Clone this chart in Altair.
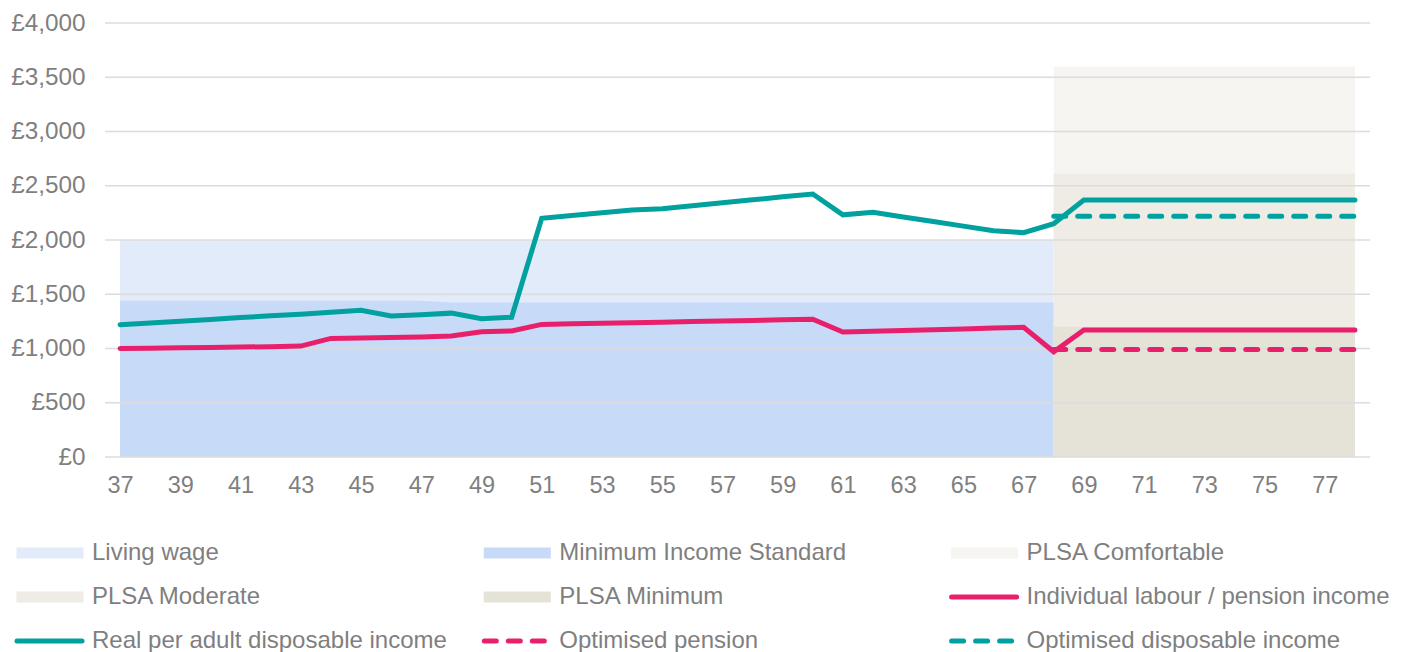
import altair as alt
import pandas as pd

# ---------------- data ----------------
ages = list(range(37, 79))
real_income = [1220, 1236, 1252, 1268, 1285, 1302, 1316, 1335, 1352, 1300,
               1312, 1326, 1275, 1288, 2200, 2226, 2252, 2277, 2287, 2315,
               2343, 2370, 2398, 2424, 2232, 2255, 2212, 2170, 2128, 2086,
               2068, 2150, 2368, 2368, 2368, 2368, 2368, 2368, 2368, 2368,
               2368, 2368]
individual_income = [1000, 1003, 1006, 1009, 1013, 1017, 1022, 1093, 1097, 1101,
                     1105, 1115, 1155, 1162, 1222, 1227, 1232, 1237, 1242, 1248,
                     1253, 1259, 1265, 1270, 1152, 1158, 1165, 1172, 1180, 1188,
                     1196, 970, 1170, 1170, 1170, 1170, 1170, 1170, 1170, 1170,
                     1170, 1170]
opt_ages = [68, 69, 70, 71, 72, 73, 74, 75, 76, 77, 78]
opt_pension = [990, 990, 990, 990, 990, 990, 990, 990, 990, 990, 990]
opt_disposable = [2220, 2220, 2220, 2220, 2220, 2220, 2220, 2220, 2220, 2220, 2220]

band_names = ["Living wage", "Minimum Income Standard", "PLSA Comfortable",
              "PLSA Moderate", "PLSA Minimum"]
band_ages = [[37, 68], [37, 47, 48, 68], [68, 78], [68, 78], [68, 78]]
band_values = [[2000, 2000], [1440, 1440, 1425, 1425], [3600, 3600],
               [2610, 2610], [1200, 1200]]

solid_names = ["Individual labour / pension income", "Real per adult disposable income"]
dashed_names = ["Optimised pension", "Optimised disposable income"]

series_order = ["Living wage", "Minimum Income Standard", "PLSA Comfortable",
                "PLSA Moderate", "PLSA Minimum", "Individual labour / pension income",
                "Real per adult disposable income", "Optimised pension",
                "Optimised disposable income"]
series_colors = ["#E2EBFA", "#C7DAF7", "#F6F5F1", "#EEECE5", "#E5E3D8",
                 "#E8206C", "#00A19E", "#E8206C", "#00A19E"]

y_ticks = [0, 500, 1000, 1500, 2000, 2500, 3000, 3500, 4000]
x_ticks = [37, 39, 41, 43, 45, 47, 49, 51, 53, 55, 57, 59, 61, 63, 65, 67,
           69, 71, 73, 75, 77]

# ---------------- styling ----------------
FONT = "Liberation Sans"
GREY = "#7F7F7F"
RECT_PATH = "M-1,-0.164H1V0.164H-1Z"
LINE_PATH = "M-1,0H1"

color = alt.Color("series:N",
                  scale=alt.Scale(domain=series_order, range=series_colors),
                  legend=None)

xscale = alt.Scale(domain=[36.5, 78.5], nice=False, zero=False)
yscale = alt.Scale(domain=[0, 4000], nice=False)

x_axis = alt.Axis(values=x_ticks, title=None, grid=False, domain=False, ticks=False,
                  labelFont=FONT, labelFontSize=23.5, labelColor=GREY, labelPadding=16,
                  labelFlush=False)
y_axis = alt.Axis(values=y_ticks, title=None, grid=False, domain=False, ticks=False,
                  labelFont=FONT, labelFontSize=24.3, labelColor=GREY, labelPadding=20,
                  labelExpr="'£' + format(datum.value, ',')")

layers = []
# bands (areas)
for i, name in enumerate(band_names):
    df = pd.DataFrame({"age": band_ages[i], "value": band_values[i], "series": name})
    layers.append(alt.Chart(df).mark_area(opacity=1, interpolate="linear").encode(
        x=alt.X("age:Q", scale=xscale, axis=x_axis if i == 0 else None),
        y=alt.Y("value:Q", scale=yscale, axis=y_axis if i == 0 else None, stack=None),
        color=color,
    ))

# gridlines
grid_df = pd.DataFrame({"value": y_ticks})
layers.append(alt.Chart(grid_df).mark_rule(color="#DCDCDC", strokeWidth=1.6).encode(
    y=alt.Y("value:Q", scale=yscale, axis=None)))


def line_layer(a, v, name, dashed):
    df = pd.DataFrame({"age": a, "value": v, "series": name})
    kw = dict(strokeWidth=5, strokeCap="round")
    if dashed:
        kw["strokeDash"] = [12, 12]
    return alt.Chart(df).mark_line(**kw).encode(
        x=alt.X("age:Q", scale=xscale, axis=None),
        y=alt.Y("value:Q", scale=yscale, axis=None),
        color=color,
    )


layers.append(line_layer(opt_ages, opt_pension, "Optimised pension", True))
layers.append(line_layer(ages, individual_income, "Individual labour / pension income", False))
layers.append(line_layer(opt_ages, opt_disposable, "Optimised disposable income", True))
layers.append(line_layer(ages, real_income, "Real per adult disposable income", False))

# ---------------- legend (3 columns grid) ----------------
leg = pd.DataFrame({
    "series": series_order,
    "col": [i % 3 for i in range(len(series_order))],
    "row": [i // 3 for i in range(len(series_order))],
})
leg["kind"] = ["area" if s in band_names else ("dashed" if s in dashed_names else "solid")
               for s in leg["series"]]

lx = alt.X("col:Q", scale=alt.Scale(domain=[0, 2], range=[-90.5, 844.1]), axis=None)
ly = alt.Y("row:Q", scale=alt.Scale(domain=[0, 2], range=[530, 618]), axis=None)

layers.append(alt.Chart(leg[leg.kind == "area"]).mark_point(
    shape=RECT_PATH, filled=True, size=4489, opacity=1, xOffset=35.5, strokeWidth=0
).encode(x=lx, y=ly, color=color))
layers.append(alt.Chart(leg[leg.kind == "solid"]).mark_point(
    shape=LINE_PATH, filled=False, size=4225, opacity=1, xOffset=35, strokeWidth=5,
    strokeCap="round"
).encode(x=lx, y=ly, color=color))
layers.append(alt.Chart(leg[leg.kind == "dashed"]).mark_point(
    shape=LINE_PATH, filled=False, size=4225, opacity=1, xOffset=35, strokeWidth=5,
    strokeCap="round", strokeDash=[12, 12]
).encode(x=lx, y=ly, color=color))
layers.append(alt.Chart(leg).mark_text(
    align="left", baseline="middle", dx=77.5, font=FONT, fontSize=24, color=GREY
).encode(x=lx, y=ly, text="series:N"))

chart = alt.layer(*layers).resolve_scale(x="independent", y="independent").properties(
    width=1265, height=434,
    padding={"left": 97, "top": 15, "right": 25, "bottom": 215},
    autosize=alt.AutoSizeParams(type="none"),
    background="white",
).configure_view(stroke=None)

chart.save("out.html", embed_options={"renderer": "svg", "actions": False})
